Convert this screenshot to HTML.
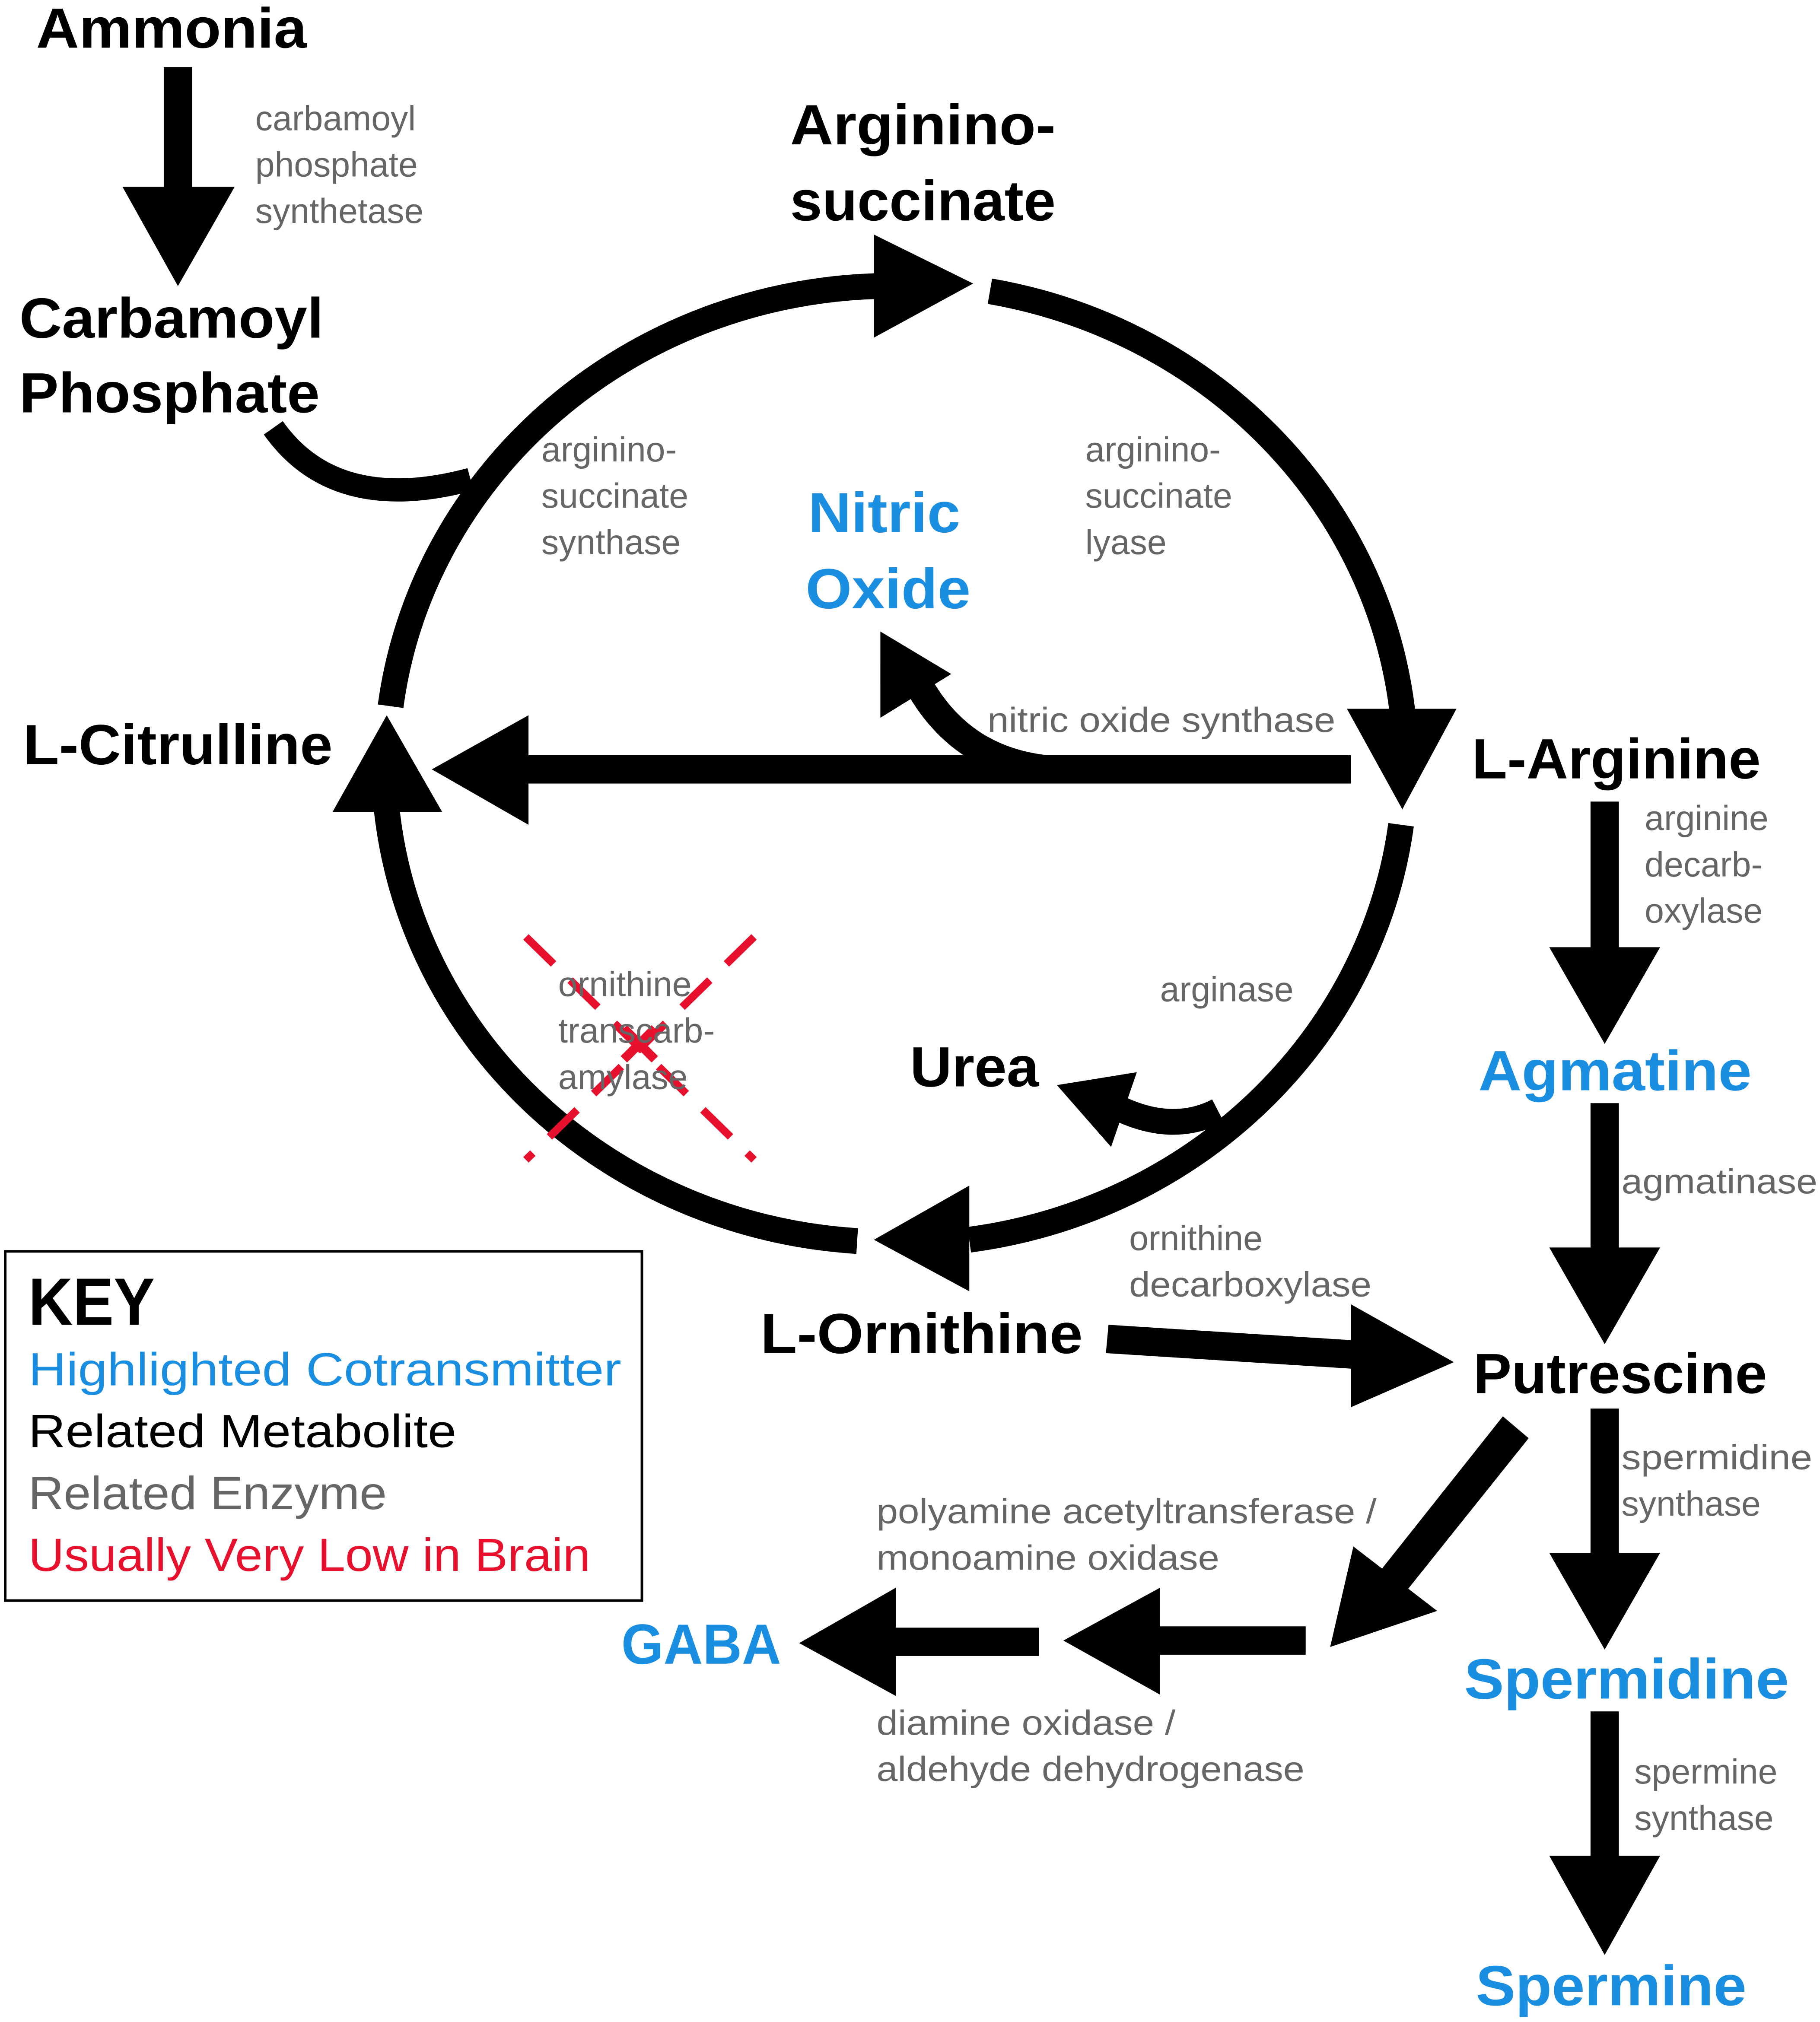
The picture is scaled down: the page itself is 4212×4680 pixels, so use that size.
<!DOCTYPE html>
<html><head><meta charset="utf-8"><style>html,body{margin:0;padding:0;background:#fff}svg{display:block}</style></head>
<body>
<svg width="4212" height="4680" viewBox="0 0 1412 1569" xmlns="http://www.w3.org/2000/svg" font-family="'Liberation Sans', sans-serif">
<rect width="1412" height="1569" fill="#fff"/>
<g fill="#000" stroke="none">
<rect x="127" y="52" width="22" height="95"/>
<polygon points="95,145 182,145 138,222"/>
<polygon points="678,182 755,220 678,262"/>
<polygon points="1045,550 1130,550 1088,628"/>
<polygon points="752,920 678,962 752,1002"/>
<polygon points="258,630 343,630 300,555"/>
<rect x="408" y="586" width="640" height="22"/>
<polygon points="410,555 335,597 410,640"/>
<polygon points="683,490 738,523 683,557"/>
<polygon points="820,842 882,832 862,890"/>
<rect x="1234" y="622" width="22" height="115"/>
<polygon points="1202,735 1288,735 1245,810"/>
<rect x="1234" y="856" width="22" height="114"/>
<polygon points="1202,968 1288,968 1245,1043"/>
<rect x="1234" y="1093" width="22" height="114"/>
<polygon points="1202,1205 1288,1205 1245,1280"/>
<rect x="1234" y="1328" width="22" height="114"/>
<polygon points="1202,1440 1288,1440 1245,1517"/>
<polygon points="860,1028 1050,1040 1048,1062 858,1050"/>
<polygon points="1048,1012 1128,1057 1048,1092"/>
<polygon points="1166,1099 1186,1116 1090,1236 1070,1220"/>
<polygon points="1050,1200 1115,1250 1032,1278"/>
<rect x="898" y="1262" width="115" height="22"/>
<polygon points="900,1232 825,1273 900,1315"/>
<rect x="693" y="1263" width="113" height="22"/>
<polygon points="695,1232 620,1275 695,1316"/>
</g>
<g fill="none" stroke="#000" stroke-width="20">
<path d="M303,548 A393,374 0 0 1 680,222"/>
<path d="M768,226 A393,374 0 0 1 1088,552"/>
<path d="M1087,640 A393,374 0 0 1 752,962"/>
<path d="M665,963 A393,374 0 0 1 300,628"/>
<path d="M212,332 Q260,400 365,372" stroke-width="18"/>
<path d="M812,597 Q745,590 712,530" stroke-width="22"/>
<path d="M945,862 Q910,880 868,860" stroke-width="20"/>
</g>
<g stroke="#e8112d" stroke-width="6" stroke-dasharray="30,18">
<line x1="408" y1="727" x2="585" y2="900"/>
<line x1="585" y1="727" x2="408" y2="900"/>
</g>
<g stroke="#e8112d" stroke-width="7"><line x1="484" y1="798" x2="508" y2="822"/><line x1="508" y1="798" x2="484" y2="822"/></g>
<rect x="4" y="971" width="494" height="271" fill="none" stroke="#000" stroke-width="2"/>
<g font-weight="bold" font-size="44" fill="#000">
<text x="28" y="37" textLength="210" lengthAdjust="spacingAndGlyphs">Ammonia</text>
<text x="15" y="262" textLength="236" lengthAdjust="spacingAndGlyphs">Carbamoyl</text>
<text x="15" y="320" textLength="233" lengthAdjust="spacingAndGlyphs">Phosphate</text>
<text x="613" y="112" textLength="206" lengthAdjust="spacingAndGlyphs">Arginino-</text>
<text x="613" y="171" textLength="206" lengthAdjust="spacingAndGlyphs">succinate</text>
<text x="18" y="593" textLength="240" lengthAdjust="spacingAndGlyphs">L-Citrulline</text>
<text x="1142" y="604" textLength="224" lengthAdjust="spacingAndGlyphs">L-Arginine</text>
<text x="706" y="843" textLength="100" lengthAdjust="spacingAndGlyphs">Urea</text>
<text x="590" y="1050" textLength="250" lengthAdjust="spacingAndGlyphs">L-Ornithine</text>
<text x="1143" y="1081" textLength="228" lengthAdjust="spacingAndGlyphs">Putrescine</text>
</g>
<g font-weight="bold" font-size="44" fill="#1a8ee0">
<text x="627" y="413" textLength="118" lengthAdjust="spacingAndGlyphs">Nitric</text>
<text x="625" y="472" textLength="128" lengthAdjust="spacingAndGlyphs">Oxide</text>
<text x="1147" y="846" textLength="212" lengthAdjust="spacingAndGlyphs">Agmatine</text>
<text x="482" y="1291" textLength="124" lengthAdjust="spacingAndGlyphs">GABA</text>
<text x="1136" y="1318" textLength="252" lengthAdjust="spacingAndGlyphs">Spermidine</text>
<text x="1145" y="1556" textLength="210" lengthAdjust="spacingAndGlyphs">Spermine</text>
</g>
<g font-size="27" fill="#666">
<text x="198" y="101">carbamoyl</text>
<text x="198" y="137">phosphate</text>
<text x="198" y="173">synthetase</text>
<text x="420" y="358">arginino-</text>
<text x="420" y="394">succinate</text>
<text x="420" y="430">synthase</text>
<text x="842" y="358">arginino-</text>
<text x="842" y="394">succinate</text>
<text x="842" y="430">lyase</text>
<text x="766" y="568" textLength="270" lengthAdjust="spacingAndGlyphs">nitric oxide synthase</text>
<text x="1276" y="644">arginine</text>
<text x="1276" y="680">decarb-</text>
<text x="1276" y="716">oxylase</text>
<text x="433" y="773">ornithine</text>
<text x="433" y="809">transcarb-</text>
<text x="433" y="845">amylase</text>
<text x="900" y="777">arginase</text>
<text x="1258" y="926" textLength="152" lengthAdjust="spacingAndGlyphs">agmatinase</text>
<text x="876" y="970">ornithine</text>
<text x="876" y="1006" textLength="188" lengthAdjust="spacingAndGlyphs">decarboxylase</text>
<text x="1258" y="1140" textLength="148" lengthAdjust="spacingAndGlyphs">spermidine</text>
<text x="1258" y="1176">synthase</text>
<text x="680" y="1182" textLength="388" lengthAdjust="spacingAndGlyphs">polyamine acetyltransferase /</text>
<text x="680" y="1218" textLength="266" lengthAdjust="spacingAndGlyphs">monoamine oxidase</text>
<text x="680" y="1346" textLength="232" lengthAdjust="spacingAndGlyphs">diamine oxidase /</text>
<text x="680" y="1382" textLength="332" lengthAdjust="spacingAndGlyphs">aldehyde dehydrogenase</text>
<text x="1268" y="1384">spermine</text>
<text x="1268" y="1420">synthase</text>
</g>
<text x="22" y="1028" font-size="52" font-weight="bold" fill="#000" textLength="98" lengthAdjust="spacingAndGlyphs">KEY</text>
<g font-size="36">
<text x="22" y="1075" fill="#1a8ee0" textLength="460" lengthAdjust="spacingAndGlyphs">Highlighted Cotransmitter</text>
<text x="22" y="1123" fill="#000" textLength="332" lengthAdjust="spacingAndGlyphs">Related Metabolite</text>
<text x="22" y="1171" fill="#666" textLength="278" lengthAdjust="spacingAndGlyphs">Related Enzyme</text>
<text x="22" y="1219" fill="#e8112d" textLength="436" lengthAdjust="spacingAndGlyphs">Usually Very Low in Brain</text>
</g>
</svg>
</body></html>
